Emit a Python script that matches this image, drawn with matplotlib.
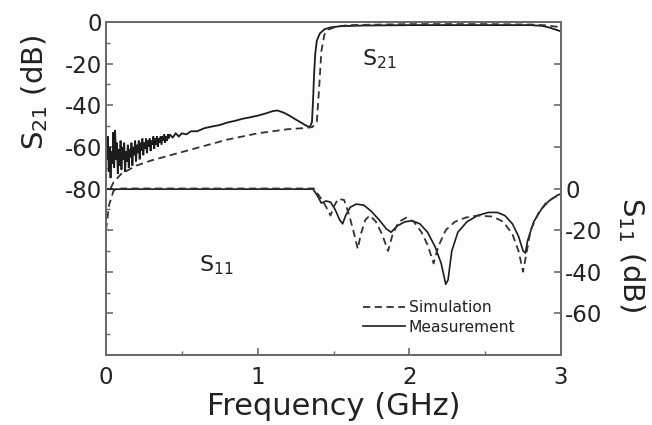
import matplotlib
matplotlib.use("Agg")
import matplotlib.pyplot as plt
from matplotlib.ticker import MultipleLocator, FixedLocator
from matplotlib.lines import Line2D

plt.rcParams['font.family'] = ['DejaVu Sans']
plt.rcParams['axes.unicode_minus'] = False

# ---------------- data ----------------
# S21 measurement (noisy low band + smooth rest)
s21_meas_f = [0.000, 0.006, 0.012, 0.018, 0.024, 0.030, 0.036, 0.042, 0.048, 0.054,
              0.060, 0.066, 0.072, 0.078, 0.084, 0.090, 0.096, 0.102, 0.108, 0.114,
              0.120, 0.126, 0.132, 0.138, 0.144, 0.150, 0.156, 0.162, 0.168, 0.174,
              0.180, 0.186, 0.192, 0.198, 0.204, 0.210, 0.216, 0.222, 0.228, 0.234,
              0.240, 0.246, 0.252, 0.258, 0.264, 0.270, 0.276, 0.282, 0.288, 0.294,
              0.300, 0.306, 0.312, 0.318, 0.324, 0.330, 0.336, 0.342, 0.348, 0.354,
              0.360, 0.366, 0.372, 0.378, 0.384, 0.390, 0.396, 0.402, 0.408, 0.414,
              0.420, 0.44, 0.46, 0.48, 0.50, 0.53, 0.56, 0.60, 0.65, 0.70,
              0.75, 0.80, 0.85, 0.90, 0.95, 1.00, 1.05, 1.10, 1.13, 1.17,
              1.21, 1.25, 1.29, 1.32, 1.345, 1.358, 1.365, 1.372, 1.38, 1.39,
              1.41, 1.44, 1.48, 1.55, 1.70, 2.00, 2.40, 2.80, 2.88, 2.93,
              2.97, 3.00]
s21_meas_db = [-58, -66, -55, -72, -60, -75, -62, -68, -53, -70,
               -52, -66, -58, -73, -61, -69, -57, -71, -60, -66,
               -58, -72, -62, -67, -59, -70, -61, -65, -58, -69,
               -60, -64, -57, -67, -59, -63, -57, -66, -58, -62,
               -56, -64, -58, -61, -56, -63, -57, -60, -56, -62,
               -57, -59, -55, -61, -56, -59, -55, -60, -56, -58,
               -55, -59, -55, -57, -54, -58, -55, -57, -54, -56,
               -54, -55.5, -53.5, -55, -53.5, -54, -52.5, -52.5, -51, -50.2,
               -49.5, -48.3, -47.5, -46.5, -45.8, -45, -44, -42.8, -42.5, -43.5,
               -45, -46.8, -48.5, -49.8, -50.5, -48, -38, -25, -15, -9,
               -5.5, -3.5, -2.6, -2.0, -1.7, -1.5, -1.5, -1.5, -1.9, -2.8,
               -3.8, -4.5]

# S21 simulation
s21_sim_f = [0.03, 0.05, 0.10, 0.20, 0.30, 0.40, 0.50, 0.60, 0.70, 0.80,
             0.90, 1.00, 1.10, 1.20, 1.30, 1.36, 1.39, 1.405, 1.42, 1.44,
             1.47, 1.52, 1.60, 2.00, 2.50, 2.80, 2.90, 3.00]
s21_sim_db = [-80, -77, -73, -69, -66.5, -64.5, -62.5, -60.5, -58.5, -56.5,
              -55, -53.5, -52.5, -51.5, -51, -50.5, -48, -32, -14, -6,
              -3.5, -2.2, -1.5, -1.0, -1.0, -1.2, -1.6, -2.5]

# S11 measurement
s11_meas_f = [0.00, 0.50, 1.00, 1.365, 1.39, 1.42, 1.45, 1.48, 1.51, 1.54,
              1.56, 1.58, 1.61, 1.65, 1.70, 1.75, 1.80, 1.85, 1.88, 1.92,
              1.97, 2.02, 2.07, 2.12, 2.17, 2.21, 2.24, 2.255, 2.28, 2.32,
              2.38, 2.45, 2.52, 2.58, 2.63, 2.68, 2.72, 2.75, 2.765, 2.78,
              2.82, 2.87, 2.92, 2.97, 3.00]
s11_meas_db = [-0.3, -0.3, -0.3, -0.3, -3, -7, -6, -6.5, -10, -15,
               -17, -13, -9, -7.5, -8, -11, -15, -19.5, -21, -18,
               -16, -15.5, -17, -21, -28, -36, -46, -44, -30, -21,
               -16, -13, -11.5, -11.5, -13, -17, -23, -30, -31, -25,
               -16, -10, -6, -3.5, -2.5]

# S11 simulation
s11_sim_f = [0.00, 0.02, 0.05, 0.10, 0.50, 1.00, 1.37, 1.40, 1.43, 1.46,
             1.48, 1.50, 1.53, 1.57, 1.60, 1.63, 1.66, 1.68, 1.71, 1.74,
             1.78, 1.82, 1.86, 1.89, 1.93, 1.98, 2.03, 2.08, 2.12, 2.16,
             2.19, 2.24, 2.30, 2.37, 2.45, 2.55, 2.62, 2.68, 2.72, 2.75,
             2.77, 2.80, 2.85, 2.90, 2.95, 3.00]
s11_sim_db = [-20, -8, -1, 0, 0, 0, 0, -3, -6, -10,
              -13, -9, -5, -5.5, -12, -20, -29, -22, -15, -13,
              -16, -22, -30, -22, -16, -14, -16, -21, -27, -36,
              -28, -20, -16, -14, -13, -13.5, -16, -22, -30, -40,
              -32, -20, -12, -7, -4.5, -3]

xticks = [0, 1, 2, 3]
left_labels = [0, -20, -40, -60, -80]
right_labels = [0, -20, -40, -60]
legend_labels = ["Simulation", "Measurement"]

# ---------------- figure ----------------
W, H = 652, 425
fig = plt.figure(figsize=(W / 100, H / 100), dpi=100, facecolor='#fdfdfb')
ax = fig.add_axes([106 / W, 1 - 355 / H, (561 - 106) / W, (355 - 22) / H])
ax.set_facecolor('#fdfdfb')
ax2 = ax.twinx()

lc = '#1c1c1c'
dash = (0, (4, 2.5))
ax.plot(s21_meas_f, s21_meas_db, color=lc, lw=1.3, solid_joinstyle='miter')
ax.plot(s21_sim_f, s21_sim_db, color='#333333', lw=1.3, linestyle=dash)
ax2.plot(s11_meas_f, s11_meas_db, color=lc, lw=1.2)
ax2.plot(s11_sim_f, s11_sim_db, color='#333333', lw=1.3, linestyle=dash)

ax.set_xlim(0, 3)
ax.set_ylim(-160, 0)
ax2.set_ylim(-80, 80)

spc = '#6a6a6a'
for a in (ax, ax2):
    for s in a.spines.values():
        s.set_color(spc)
        s.set_linewidth(1.4)

txtc = '#222222'
ax.xaxis.set_major_locator(FixedLocator(xticks))
ax.xaxis.set_minor_locator(MultipleLocator(0.5))
ax.yaxis.set_major_locator(MultipleLocator(20))
ax.yaxis.set_minor_locator(MultipleLocator(10))
ax.yaxis.set_major_formatter(plt.FuncFormatter(
    lambda v, p: f"{int(v)}" if int(round(v)) in left_labels else ""))
ax2.yaxis.set_major_locator(MultipleLocator(20))
ax2.yaxis.set_major_formatter(plt.FuncFormatter(
    lambda v, p: f"{int(v)}" if int(round(v)) in right_labels else ""))

ax.tick_params(axis='both', which='major', direction='in', length=5, width=1.2,
               color=spc, labelcolor=txtc, labelsize=16.5)
ax.tick_params(axis='both', which='minor', direction='in', length=3, width=1.0,
               color=spc)
ax.tick_params(axis='x', which='major', pad=8)
ax.tick_params(axis='y', which='major', pad=3)
ax.tick_params(axis='x', top=False, which='both')
ax2.tick_params(axis='y', which='major', direction='in', length=5, width=1.2,
                color=spc, labelcolor=txtc, labelsize=16.5, pad=3)

ax.set_xlabel("Frequency (GHz)", fontsize=22, color=txtc, labelpad=2)
ax.set_ylabel(r"S$_{21}$ (dB)", fontsize=21, color=txtc)
ax.yaxis.set_label_coords(-0.123, 0.79)
ax2.set_ylabel(r"S$_{11}$ (dB)", fontsize=21, color=txtc, rotation=270)
ax2.yaxis.set_label_coords(1.189, 0.30)

ax.text(1.69, -21, r"S$_{21}$", fontsize=16, color=txtc)
ax.text(0.61, -120, r"S$_{11}$", fontsize=16, color=txtc)

handles = [Line2D([], [], color='#333333', lw=1.3, linestyle=dash),
           Line2D([], [], color=lc, lw=1.2)]
ax2.legend(handles, legend_labels, loc='upper left',
           bbox_to_anchor=(0.565, 0.165), frameon=False, fontsize=11.2,
           borderpad=0, borderaxespad=0, handlelength=2.7, handletextpad=0.25,
           labelspacing=0.3, labelcolor=txtc)

fig.savefig("out.png", dpi=100, facecolor=fig.get_facecolor())
